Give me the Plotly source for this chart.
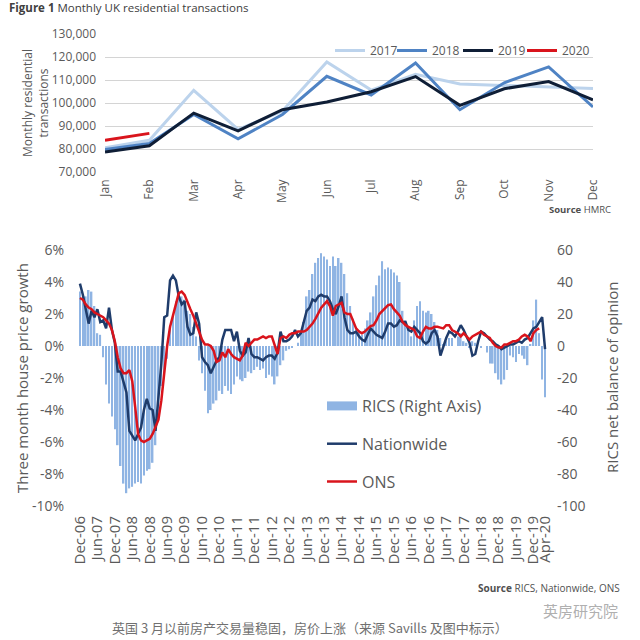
import plotly.graph_objects as go
import pandas as pd

# ---------------- Top chart data ----------------
months_top = ["Jan", "Feb", "Mar", "Apr", "May", "Jun", "Jul", "Aug", "Sep", "Oct", "Nov", "Dec"]
tx_2017 = [80500, 83800, 105500, 88500, 96500, 117800, 105600, 112500, 108300, 107600, 106800, 106300]
tx_2018 = [79800, 82400, 95000, 84400, 95000, 111600, 103500, 117400, 97100, 108800, 115700, 98300]
tx_2019 = [78700, 81400, 95600, 87900, 97100, 100400, 104900, 111500, 99000, 106200, 109300, 101400]
tx_2020 = [83800, 86800]

# ---------------- Bottom chart data ----------------
dates = pd.date_range("2006-12-01", periods=161, freq="MS")
month_labels = [d.strftime("%b-%y") for d in dates]

rics = [34, 32, 31, 35, 34, 25, 8, 7, -7, -24,
        -36, -44, -52, -62, -75, -86, -92, -89, -88, -86,
        -85, -86, -81, -78, -77, -73, -62, -46, -25, -17,
        -8, 12, 20, 28, 32, 31, 29, 22, 20, 12,
        6, -9, -17, -28, -42, -40, -36, -34, -28, -30,
        -25, -28, -30, -24, -19, -21, -22, -20, -16, -17,
        -15, -13, -15, -14, -20, -18, -19, -24, -19, -12,
        -9, -3, -2, -1, 0, 2, 8, 15, 31, 35,
        45, 52, 55, 58, 56, 54, 50, 56, 50, 55,
        52, 45, 33, 25, 17, 11, 10, 7, 11, 16,
        21, 31, 38, 44, 53, 48, 49, 48, 46, 44,
        40, 22, 16, 10, 6, 16, 25, 28, 22, 21,
        22, 20, 15, 10, 5, 1, 3, 5, 5, 0,
        6, 8, 3, 2, -1, 3, 2, 0, -1, 0,
        -4, -11, -11, -17, -21, -24, -21, -15, -6, -7,
        -10, -5, -6, -8, -12, 1, 16, 29, 8, -21,
        -32]

nationwide = [3.9, 3.2, 2.3, 1.4, 2.2, 1.8, 2.3, 1.5, 1.6, 1.1,
              2.4, 1.0, 0.2, -1.6, -1.6, -2.2, -2.9, -5.3, -5.6, -5.9,
              -5.5, -5.1, -4.0, -3.3, -3.9, -4.0, -5.3, -3.0, -1.1, 1.8,
              1.9, 4.1, 4.4, 4.1, 3.1, 2.6, 2.8, 1.2, 0.7, 0.8,
              2.1, 1.4, -0.7, -1.0, -1.2, -1.7, -1.3, -0.9, -0.7, 0.4,
              1.0, 1.0, 1.0, 0.3, 0.9, -0.3, -0.6, -0.4, 0.5, -0.5,
              -0.7, -0.7, -0.8, -0.9, -0.7, -0.6, -0.6, -0.8, -0.4, 0.9,
              0.3, 0.3, 0.4, 0.6, 1.0, 0.6, 0.8, 1.6, 2.2, 2.4,
              2.9, 2.8, 3.1, 3.2, 3.1, 3.1, 2.8, 2.3, 2.0, 2.5,
              3.1, 1.8, 1.0, 0.8, 0.8, 0.9, 0.6, 0.4, 0.3, 0.7,
              1.1, 0.9, 0.7, 0.6, 0.5, 0.9, 1.4, 1.4, 1.2, 1.3,
              1.6, 1.5, 1.5, 1.0, 0.9, 1.2, 1.0, 0.8, 0.3, 0.15,
              0.3, 0.8, 1.0, 0.6, -0.6, 0.0, 0.5, 0.9, 0.8, 0.6,
              0.9, 1.3, 1.0, 0.6, 0.2, -0.6, -0.5, 0.3, 0.9, 0.8,
              0.6, 0.4, 0.3, 0.1, 0.0, -0.2, -0.1, 0.0, 0.1, 0.1,
              0.2, 0.3, 0.2, 0.4, 0.5, 0.8, 1.1, 1.2, 1.5, 1.8,
              -0.2]

ons = [3.0, 2.9, 2.6, 2.4, 2.3, 2.1, 2.0, 1.9, 1.8, 1.6,
       1.4, 1.0, 0.3, -0.7, -1.4, -1.7, -1.7, -1.5, -2.2, -3.8,
       -5.5, -5.9, -6.0, -5.9, -5.8, -5.5, -5.0, -4.6, -3.4, -1.6,
       0.0, 1.2, 2.0, 2.6, 3.3, 3.4, 3.2, 2.7, 2.3, 1.9,
       1.4, 1.0, 0.4, 0.1, 0.1, 0.0, -0.3, -1.0, -0.9, -0.4,
       -0.7, -0.2, -0.5, -0.7, -0.8, -0.9, -0.6, 0.2, 0.0, 0.2,
       0.4, 0.4, 0.5, 0.6, 0.5, 0.6, 0.6, 0.1, -0.5, 0.5,
       0.6, 0.5, 0.7, 0.8, 0.8, 0.9, 0.9, 0.9, 1.0, 1.2,
       1.4, 1.7, 2.1, 2.4, 2.6, 2.8, 2.5, 1.9, 2.5, 2.6,
       2.7, 2.1, 2.0, 2.0, 1.5, 1.1, 0.9, 0.8, 0.9, 1.1,
       1.25, 1.3, 1.6, 2.0, 2.2, 2.4, 2.55, 2.6, 2.3, 2.1,
       1.9, 1.5, 1.3, 1.2, 1.1, 1.0, 0.6, 0.5, 0.9, 1.2,
       1.1, 1.1, 1.2, 1.2, 1.15, 1.1, 1.3, 1.3, 1.0, 0.9,
       0.8, 0.6, 0.8, 0.6, 0.4, 0.6, 0.7, 0.8, 0.9, 0.7,
       0.6, 0.5, 0.2, 0.0, -0.1, -0.1, 0.1, 0.1, 0.2, 0.3,
       0.3, 0.4, 0.6, 0.7, 0.6, 0.3, 0.8, 1.0, 1.1]

bottom_ticks = [month_labels[i] for i in range(0, 157, 6)] + [month_labels[160]]
pct_ticks = [-10, -8, -6, -4, -2, 0, 2, 4, 6]
rics_ticks = [-100, -80, -60, -40, -20, 0, 20, 40, 60]

W = H = 640
FONT = "Open Sans"
GREY = "#5a5a5a"


def px(v):
    return v / W


def py(v):
    return 1 - v / H


fig = go.Figure()

# ---- top chart traces (one small legend box per year, placed side by side) ----
top_series = [("2017", tx_2017, "#bcd3ec", "legend", 330),
              ("2018", tx_2018, "#4f83c4", "legend3", 392),
              ("2019", tx_2019, "#0f1e36", "legend4", 458),
              ("2020", tx_2020, "#d9141c", "legend5", 522)]
legend_boxes = {}
for name, vals, col, leg, lx in top_series:
    fig.add_trace(go.Scatter(x=months_top[:len(vals)], y=vals, name=name, mode="lines",
                             line=dict(color=col, width=3), xaxis="x", yaxis="y",
                             legend=leg))
    legend_boxes[leg] = dict(orientation="h", x=px(lx), y=py(36), xanchor="left",
                             yanchor="top", font=dict(size=12, color=GREY),
                             bgcolor="rgba(0,0,0,0)")

# ---- bottom chart traces ----
BAR_COL = "#8fb4e3"
fig.add_trace(go.Bar(x=month_labels, y=rics, marker=dict(color=BAR_COL, line=dict(width=0)),
                     xaxis="x2", yaxis="y2", showlegend=False, name="RICS (Right Axis)"))
fig.add_trace(go.Scatter(x=[None], y=[None], mode="lines", name="RICS (Right Axis)",
                         line=dict(color=BAR_COL, width=9), xaxis="x2", yaxis="y2",
                         legend="legend2", legendgroup="g1"))
fig.add_trace(go.Scatter(x=month_labels, y=nationwide, mode="lines", name="Nationwide",
                         line=dict(color="#1f3c6b", width=2.5), xaxis="x2", yaxis="y3",
                         legend="legend2", legendgroup="g2"))
fig.add_trace(go.Scatter(x=month_labels[:len(ons)], y=ons, mode="lines", name="ONS",
                         line=dict(color="#d9141c", width=2.5), xaxis="x2", yaxis="y3",
                         legend="legend2", legendgroup="g3"))

fig.update_layout(
    width=W, height=H, autosize=False,
    margin=dict(l=0, r=0, t=0, b=0, autoexpand=False),
    paper_bgcolor="white", plot_bgcolor="white",
    font=dict(family=FONT, color=GREY),
    bargap=0.45,
    xaxis=dict(domain=[px(105), px(593)], anchor="y", type="category", range=[0, 11],
               tickangle=-90, showgrid=False, showline=False, zeroline=False, ticks="",
               tickfont=dict(size=12, color=GREY), ticklabelstandoff=4, automargin=False),
    yaxis=dict(domain=[py(172), py(34)], anchor="x", range=[70000, 130000], dtick=10000,
               tickformat=",", showgrid=True, gridcolor="#d4d4d4", gridwidth=1,
               zeroline=False, showline=False, ticks="",
               tickfont=dict(size=12, color=GREY), ticklabelstandoff=8, automargin=False),
    xaxis2=dict(domain=[px(75), px(550)], anchor="y2", type="category",
                range=[-1.7, 161.7], tickmode="array", tickvals=bottom_ticks,
                ticktext=bottom_ticks, tickangle=-90, showgrid=False, showline=False,
                zeroline=False, ticks="", tickfont=dict(size=15, color=GREY),
                ticklabelstandoff=6, automargin=False),
    yaxis2=dict(domain=[py(506), py(250)], anchor="x2", side="right", range=[-100, 60],
                tickmode="array", tickvals=rics_ticks, ticktext=[str(v) for v in rics_ticks],
                showgrid=False, zeroline=False, showline=False, ticks="",
                tickfont=dict(size=14, color=GREY), ticklabelstandoff=6, automargin=False),
    yaxis3=dict(overlaying="y2", anchor="x2", side="left", range=[-10, 6],
                tickmode="array", tickvals=pct_ticks, ticktext=[f"{v}%" for v in pct_ticks],
                showgrid=False, zeroline=False, showline=False, ticks="",
                tickfont=dict(size=14, color=GREY), ticklabelstandoff=10, automargin=False),
    legend2=dict(orientation="v", x=px(322), y=py(389), xanchor="left", yanchor="top",
                 font=dict(size=16, color=GREY), bgcolor="rgba(0,0,0,0)",
                 tracegroupgap=14, traceorder="grouped"),
    **legend_boxes,
)

annotations = [
    dict(text="<b>Figure 1</b> Monthly UK residential transactions", x=px(7), y=py(8),
         xanchor="left", yanchor="middle", font=dict(size=11.5, color="#404040")),
    dict(text="Monthly residential<br>transactions", x=px(36), y=py(103), textangle=-90,
         xanchor="center", yanchor="middle", font=dict(size=12, color=GREY)),
    dict(text="<b>Source</b> HMRC", x=px(613), y=py(209), xanchor="right", yanchor="middle",
         font=dict(size=9.5, color="#505050")),
    dict(text="Three month house price growth", x=px(22), y=py(378), textangle=-90,
         xanchor="center", yanchor="middle", font=dict(size=15, color=GREY)),
    dict(text="RICS net balance of opinion", x=px(612), y=py(378), textangle=-90,
         xanchor="center", yanchor="middle", font=dict(size=15, color=GREY)),
    dict(text="<b>Source</b> RICS, Nationwide, ONS", x=px(622), y=py(588), xanchor="right",
         yanchor="middle", font=dict(size=10, color="#505050")),
    dict(text="英房研究院", x=px(620), y=py(610), xanchor="right", yanchor="middle",
         font=dict(size=15, color="#b0b0b0", family="Noto Sans CJK SC")),
    dict(text="英国 3 月以前房产交易量稳固，房价上涨（来源 Savills 及图中标示）",
         x=px(310), y=py(627), xanchor="center", yanchor="middle",
         font=dict(size=13, color="#707070", family="Noto Sans CJK SC")),
]
for a in annotations:
    a.update(xref="paper", yref="paper", showarrow=False)
fig.update_layout(annotations=annotations)

fig.write_html("out.html", config={"displayModeBar": False},
               post_script="document.body.style.margin='0px';document.body.style.padding='0px';")
